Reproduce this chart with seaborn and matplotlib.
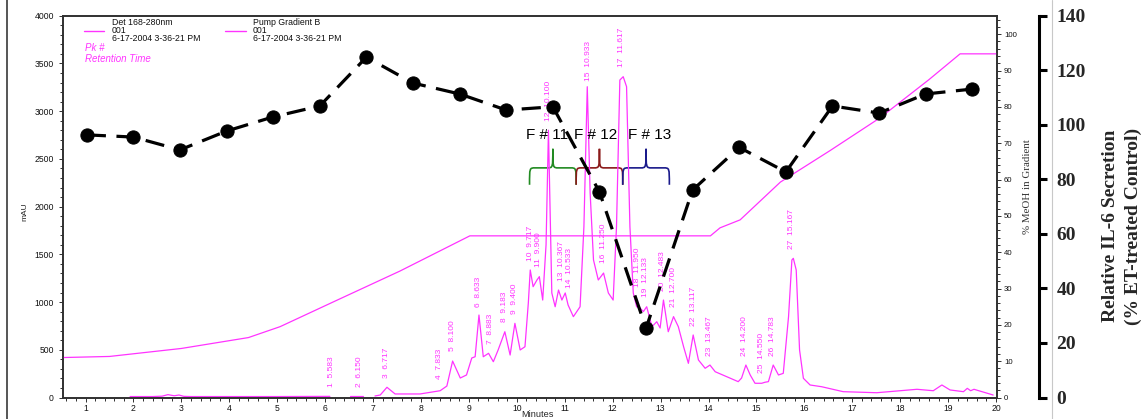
import numpy as np
import pandas as pd
import matplotlib
matplotlib.use("Agg")
import matplotlib.pyplot as plt
import seaborn as sns
from matplotlib.path import Path
from matplotlib.patches import PathPatch
from matplotlib.lines import Line2D
from matplotlib.ticker import MultipleLocator

# ---------------- data ----------------
# HPLC trace (Det 168-280nm), time on the displayed minute axis, absorbance in mAU
trace_minutes = [
    1.93, 2.40, 2.60, 2.72, 2.85, 2.95, 3.05, 3.20, 4.00, 5.00, 6.10,
    6.52, 6.80,
    7.04, 7.15, 7.29, 7.46, 7.98, 8.40, 8.54, 8.66, 8.82, 8.95,
    9.06, 9.13, 9.21, 9.30, 9.41, 9.51, 9.61, 9.75, 9.86, 9.96,
    10.07, 10.17, 10.24, 10.28, 10.34, 10.42, 10.47, 10.54, 10.61, 10.66,
    10.73, 10.80, 10.87, 10.94, 11.01, 11.07, 11.18, 11.32, 11.40, 11.47,
    11.53, 11.60, 11.70, 11.81, 11.91, 12.01, 12.08, 12.15, 12.22, 12.29,
    12.36, 12.43, 12.50, 12.57, 12.64, 12.71, 12.82, 12.92, 12.99, 13.06,
    13.16, 13.27, 13.37, 13.48, 13.58, 13.68, 13.79, 13.93, 14.03, 14.14,
    14.38, 14.62, 14.69, 14.78, 14.87, 14.97, 15.11, 15.18, 15.25, 15.35,
    15.46, 15.56, 15.67, 15.74, 15.77, 15.83, 15.90, 15.98, 16.12, 16.36,
    16.81, 17.51, 18.35, 18.69, 18.87, 19.04, 19.32, 19.40, 19.47, 19.54,
    19.94,
]
trace_mau = [
    10, 10, 14, 30, 18, 26, 12, 10, 10, 10, 12,
    12, 12,
    16, 26, 107, 37, 37, 71, 120, 382, 204, 236,
    414, 427, 864, 427, 463, 375, 498, 689, 445, 777,
    498, 532, 990, 1336, 1161, 1231, 1266, 1021, 1600, 2800,
    1095, 951, 1126, 1021, 1095, 969, 847, 951, 1789, 3256,
    2143, 1441, 1231, 1304, 1095, 1021, 1789, 3326, 3361, 3256,
    1789, 1095, 951, 938, 900, 951, 742, 794, 728, 1021,
    689, 847, 742, 532, 358, 655, 393, 306, 340, 270,
    218, 166, 204, 340, 236, 149, 149, 160, 166, 340,
    236, 253, 847, 1441, 1458, 1336, 498, 201, 131, 113,
    61, 50, 86, 71, 131, 79, 61, 96, 71, 86,
    26,
]
trace_segment = [0] * 11 + [1] * 2 + [2] * 101

# Pump gradient B (% MeOH)
gradient_minutes = [0.53, 1.50, 3.00, 4.40, 5.06, 6.25, 7.56, 9.02, 14.04,
                    14.24, 14.66, 15.50, 16.54, 17.58, 18.60, 19.25, 20.02]
gradient_meoh = [11.0, 11.3, 13.5, 16.5, 19.5, 26.8, 34.8, 44.5, 44.5,
                 46.7, 48.9, 59.3, 68.0, 77.0, 87.5, 94.6, 94.6]

# integrated peaks: number and retention time
peak_number = list(range(1, 28))
peak_rt = [5.583, 6.150, 6.717, 7.833, 8.100, 8.633, 8.883, 9.183, 9.400,
           9.717, 9.900, 10.100, 10.367, 10.533, 10.933, 11.250, 11.617,
           11.950, 12.133, 12.483, 12.700, 13.117, 13.467, 14.200, 14.550,
           14.783, 15.167]

# IL-6 secretion of each collected fraction (% of ET-treated control)
fraction = list(range(1, 21))
il6_secretion = [96.3, 95.5, 90.8, 97.7, 102.9, 106.9, 124.8, 115.3, 111.3,
                 105.4, 106.6, 75.4, 25.4, 76.1, 91.7, 82.7, 106.9, 104.3,
                 111.3, 113.1]

# active fractions marked with braces
bracket_fractions = [11, 12, 13]
bracket_labels = ["F # 11", "F # 12", "F # 13"]
bracket_colors = ["#228b22", "#8b1a1a", "#1a1a8b"]

# retention times are reported against detector time; the displayed axis runs ahead
RT_DISPLAY_SHIFT = 0.56

# ---------------- styling ----------------
PINK = "#ff33ff"
AXC = "#303030"
W, H = 1148, 419

sns.set_style("ticks")
plt.rcParams["font.family"] = ["Liberation Sans", "DejaVu Sans"]


def fx(px):
    return px / W


def fy(py):
    return 1 - py / H


fig = plt.figure(figsize=(W / 100, H / 100), dpi=100)
rect = [fx(63), fy(397.5), fx(997) - fx(63), fy(15.7) - fy(397.5)]

ax = fig.add_axes(rect)
ax_grad = ax.twinx()
ax_il6 = fig.add_axes(rect, label="il6")

# ---- chromatogram ----
trace = pd.DataFrame({"minutes": trace_minutes, "mAU": trace_mau,
                      "segment": trace_segment})
sns.lineplot(data=trace, x="minutes", y="mAU", units="segment",
             estimator=None, sort=False, color=PINK, lw=0.9, ax=ax,
             legend=False, zorder=2)
ax.set_xlim(0.53, 20.02)
ax.set_ylim(0, 4000)
ax.set_xlabel("")
ax.set_ylabel("")
ax.xaxis.set_major_locator(MultipleLocator(1))
ax.xaxis.set_minor_locator(MultipleLocator(0.2))
ax.yaxis.set_major_locator(MultipleLocator(500))
ax.yaxis.set_minor_locator(MultipleLocator(100))
ax.tick_params(which="both", direction="out", color=AXC, labelcolor="#111",
               labelsize=6.2, width=0.7)
ax.tick_params(which="major", length=3)
ax.tick_params(which="minor", length=2)
ax.tick_params(axis="x", pad=1.5)
for s in ax.spines.values():
    s.set_color(AXC)
    s.set_linewidth(1.2)

# peak annotations: number and retention time, just above each peak top
tx = np.array(trace_minutes, dtype=float)
ty = np.array(trace_mau, dtype=float)
for n, rt in zip(peak_number, peak_rt):
    xd = rt + RT_DISPLAY_SHIFT
    window = np.linspace(xd - 0.06, xd + 0.06, 25)
    top = np.interp(window, tx, ty).max()
    ax.text(xd, top + 100, f"{n}  {rt:.3f}", rotation=90, ha="center",
            va="bottom", fontsize=6.0, color=PINK, clip_on=False, zorder=3)

# ---- gradient ----
sns.lineplot(x=gradient_minutes, y=gradient_meoh, ax=ax_grad, color=PINK,
             lw=0.9, estimator=None, sort=False)
ax_grad.set_ylim(0, 105.1)
ax_grad.set_ylabel("")
ax_grad.yaxis.set_major_locator(MultipleLocator(10))
ax_grad.yaxis.set_minor_locator(MultipleLocator(2))
ax_grad.tick_params(which="both", direction="out", color=AXC,
                    labelcolor="#111", labelsize=5.6, width=0.7, pad=2)
ax_grad.tick_params(which="major", length=3)
ax_grad.tick_params(which="minor", length=2)
for s in ax_grad.spines.values():
    s.set_color(AXC)
    s.set_linewidth(1.2)

# ---- IL-6 bioassay ----
ax_il6.patch.set_visible(False)
sns.lineplot(x=fraction, y=il6_secretion, ax=ax_il6, color="black", lw=2.3,
             marker="o", markersize=9.5, markeredgecolor="black",
             estimator=None, sort=False, zorder=5)
ax_il6.lines[0].set_dashes([6, 3.3])
ax_il6.set_xlim(0.49, 20.53)
ax_il6.set_ylim(0, 140)
ax_il6.set_xlabel("")
ax_il6.set_ylabel("")
ax_il6.set_xticks([])
for side in ("top", "left", "bottom"):
    ax_il6.spines[side].set_visible(False)
ax_il6.spines["right"].set_position(("axes", (1038.5 - 63) / 934))
ax_il6.spines["right"].set_linewidth(2.2)
ax_il6.spines["right"].set_color("black")
ax_il6.yaxis.set_ticks_position("right")
il6_ticks = list(range(0, 141, 20))
ax_il6.set_yticks(il6_ticks, labels=[str(t) for t in il6_ticks],
                  fontsize=14, fontweight="bold", family="Liberation Serif")
ax_il6.tick_params(axis="y", direction="out", length=6, width=2.2,
                   color="black", pad=7)


def brace_path(xc, half, y_end, y_bar, y_tip, curl):
    x0, x1 = xc - half, xc + half
    verts = [
        (x0, y_end),
        (x0, y_bar), (x0, y_bar), (x0 + curl, y_bar),
        (xc - curl, y_bar),
        (xc, y_bar), (xc, y_bar), (xc, y_tip),
        (xc, y_bar), (xc, y_bar), (xc + curl, y_bar),
        (x1 - curl, y_bar),
        (x1, y_bar), (x1, y_bar), (x1, y_end),
    ]
    C = Path.CURVE4
    codes = [Path.MOVETO, C, C, C, Path.LINETO, C, C, C, C, C, C,
             Path.LINETO, C, C, C]
    return Path(verts, codes)


label_dx = [-0.13, -0.09, 0.07]
for f, lab, col, dx in zip(bracket_fractions, bracket_labels, bracket_colors,
                           label_dx):
    ax.add_patch(PathPatch(brace_path(f, 0.5, 78.0, 84.2, 91.2, 0.12),
                           transform=ax_il6.transData, fill=False,
                           edgecolor=col, lw=1.2, zorder=1))
    ax_il6.text(f + dx, 96.3, lab, ha="center", va="center", fontsize=11,
                color="black", zorder=4)

# ---- axis titles and header ----
fig.text(fx(25), fy(212), "mAU", rotation=90, ha="center", va="center",
         fontsize=6)
fig.text(fx(537), fy(409.5), "Minutes", ha="center", va="top", fontsize=6.6)
fig.text(fx(1027), fy(187), "% MeOH in Gradient", rotation=90, ha="center",
         va="center", fontsize=7.8, family="Liberation Serif", color="#333")
fig.text(fx(1122), fy(226),
         "Relative IL-6 Secretion\n(% ET-treated Control)", rotation=90,
         ha="center", va="center", fontsize=14, fontweight="bold",
         family="Liberation Serif", linespacing=1.4)

for x0, x1, xt, name in [(84, 104, 112, "Det 168-280nm"),
                         (225, 246, 253, "Pump Gradient B")]:
    fig.add_artist(Line2D([fx(x0), fx(x1)], [fy(31), fy(31)], color=PINK,
                          lw=1.0))
    for yy, line in zip((22.3, 30.2, 38.3),
                        (name, "001", "6-17-2004 3-36-21 PM")):
        fig.text(fx(xt), fy(yy), line, ha="left", va="center", fontsize=6.3,
                 color="#111")
fig.text(fx(85), fy(48.3), "Pk #", ha="left", va="center", fontsize=7,
         style="italic", color=PINK)
fig.text(fx(85), fy(59.3), "Retention Time", ha="left", va="center",
         fontsize=7, style="italic", color=PINK)

# frame edges around the composed panel
fig.add_artist(Line2D([fx(7), fx(7)], [0, 1], color="#555", lw=1.4))
fig.add_artist(Line2D([fx(1052), fx(1052)], [0, 1], color="#c8c8c8", lw=0.8))

fig.savefig("out.png", dpi=100)
